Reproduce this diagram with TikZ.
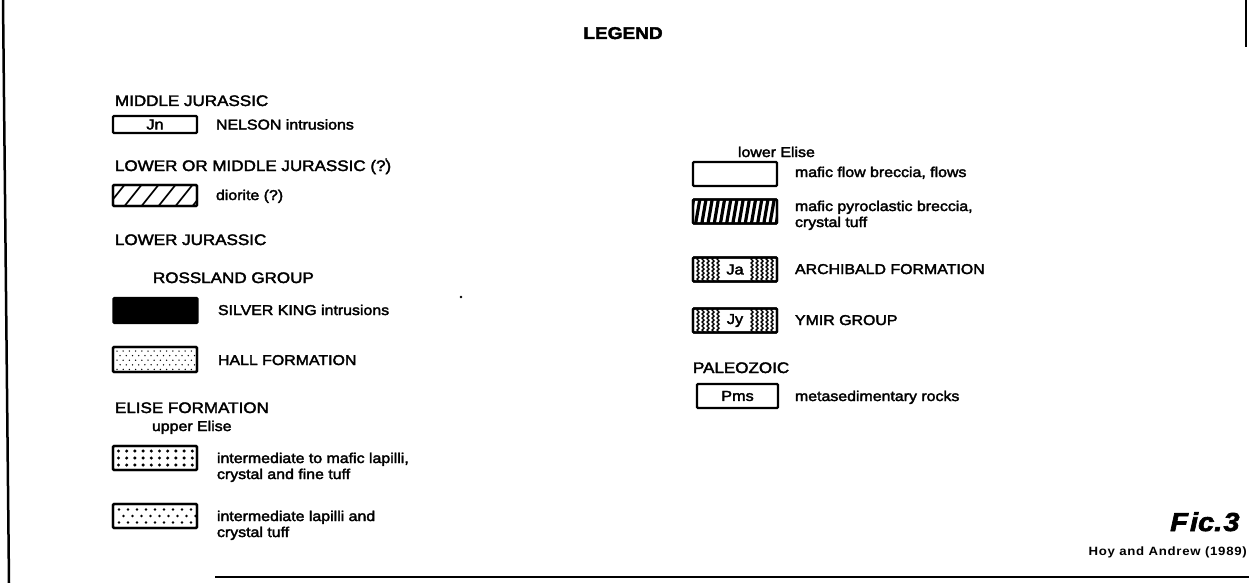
\documentclass[tikz,border=0pt]{standalone}
\usepackage{fontspec}
\setmainfont{Liberation Sans}[FakeStretch=1.12, FakeBold=2.5]
\newfontfamily\creditfont{Liberation Sans}[FakeStretch=1.1, LetterSpace=6]
\usetikzlibrary{decorations.pathmorphing}
\begin{document}
\begin{tikzpicture}[x=1pt,y=-1pt,
  txt/.style={anchor=base west, inner sep=0pt, outer sep=0pt, font=\fontsize{14.2}{16}\selectfont},
  head/.style={txt, font=\fontsize{15.2}{17}\selectfont},
  swatch/.style={draw, line width=2.3pt, rounded corners=1pt, inner sep=0pt, outer sep=0pt, minimum width=84pt, minimum height=24pt, font=\fontsize{14.5}{16}\selectfont},
  frameline/.style={draw, line width=2.3pt, rounded corners=1pt},
  lbl/.style={fill=white, inner sep=1.5pt, font=\fontsize{14.5}{16}\selectfont},
  hatch/.style={line width=1.7pt},
  vhatch/.style={line width=3.2pt},
  wavy/.style={line width=1.4pt, decorate, decoration={zigzag, segment length=4pt, amplitude=1pt}},
  border/.style={line width=2.5pt}]
\path[use as bounding box] (0,0) rectangle (1249,583);

% frame lines
\coordinate (lt) at (3,0); \coordinate (lb) at (9,583);
\coordinate (rt) at (1246,0); \coordinate (rb) at (1246,47);
\coordinate (bl) at (215,577); \coordinate (br) at (1249,577);
\draw[border] (lt) -- (lb);
\draw[border] (rt) -- (rb);
\draw[line width=2pt] (bl) -- (br);

% title
\node[anchor=base, inner sep=0pt, font=\fontsize{17}{20}\selectfont\bfseries] (title) at (623,39) {LEGEND};

% ---------- left column ----------
\node[head] (h1) at (115,106) {MIDDLE JURASSIC};
\node[swatch, minimum height=17pt] (jn) at (155,124.5) {Jn};
\node[txt] (t1) at (216,129.5) {NELSON intrusions};

\node[head] (h2) at (115,171) {LOWER OR MIDDLE JURASSIC (?)};
\fill (386,159) circle (1);
\node[swatch, minimum height=21pt] (dio) at (155,195.5) {};
\begin{scope}
  \clip (dio.south west) rectangle (dio.north east);
  \foreach \k in {0,...,5} \draw[hatch] ({106+17*\k},208) -- ({126+17*\k},183);
\end{scope}
\draw[frameline] (dio.south west) rectangle (dio.north east);
\node[txt] (t2) at (216,200) {diorite (?)};

\node[head] (h3) at (115,245) {LOWER JURASSIC};
\node[head] (h4) at (153,283) {ROSSLAND GROUP};
\fill (461,297) circle (1.3);
\node[swatch, fill=black, minimum height=25pt] (sk) at (155.5,310.5) {};
\node[txt] (t3) at (218,315) {SILVER KING intrusions};

\node[swatch, minimum height=25pt] (hall) at (155,359.5) {};
\begin{scope}
  \clip (hall.south west) rectangle (hall.north east);
  \foreach \i in {0,...,12} \foreach \j in {0,...,4}
     \fill ({117+6.2*\i+3.1*mod(\j,2)},{351+4.6*\j}) circle (0.75);
\end{scope}
\draw[frameline] (hall.south west) rectangle (hall.north east);
\node[txt] (t4) at (218,365) {HALL FORMATION};

\node[head] (h5) at (115,413) {ELISE FORMATION};
\node[txt] (h6) at (152,431) {upper Elise};
\node[swatch] (ue1) at (155,458) {};
\begin{scope}
  \clip (ue1.south west) rectangle (ue1.north east);
  \foreach \i in {0,...,9} \foreach \j in {0,1,2}
     \fill ({118.5+8.2*\i},{451+7*\j}) circle (1.7);
\end{scope}
\draw[frameline] (ue1.south west) rectangle (ue1.north east);
\node[txt] (t5a) at (217,463) {intermediate to mafic lapilli,};
\node[txt] (t5b) at (217,479) {crystal and fine tuff};

\node[swatch] (ue2) at (155,516) {};
\begin{scope}
  \clip (ue2.south west) rectangle (ue2.north east);
  \foreach \i in {0,...,8} \foreach \j in {0,1,2}
     \fill ({119+9*\i+4.5*mod(\j,2)},{509.5+6.5*\j}) circle (1.35);
\end{scope}
\draw[frameline] (ue2.south west) rectangle (ue2.north east);
\node[txt] (t6a) at (217,521) {intermediate lapilli and};
\node[txt] (t6b) at (217,537) {crystal tuff};

% ---------- right column ----------
\node[txt] (h7) at (738,157) {lower Elise};
\node[swatch] (le1) at (735,174) {};
\node[txt] (t7) at (795,177) {mafic flow breccia, flows};

\node[swatch] (le2) at (735,211.5) {};
\begin{scope}
  \clip (le2.south west) rectangle (le2.north east);
  \foreach \k in {0,...,14} \draw[vhatch] ({689+6.2*\k},226) -- ({694+6.2*\k},197);
\end{scope}
\draw[frameline] (le2.south west) rectangle (le2.north east);
\node[txt] (t8a) at (795,211) {mafic pyroclastic breccia,};
\node[txt] (t8b) at (795,227) {crystal tuff};

\node[swatch] (ja) at (735,269.5) {};
\begin{scope}
  \clip (ja.south west) rectangle (ja.north east);
  \foreach \x in {698,703,708,713,718,752,757,762,767,772}
     \draw[wavy] (\x,256) -- (\x,283);
\end{scope}
\draw[frameline] (ja.south west) rectangle (ja.north east);
\node[lbl] (jalbl) at (735,269.5) {Ja};
\node[txt] (t9) at (795,274) {ARCHIBALD FORMATION};

\node[swatch] (jy) at (735,320.5) {};
\begin{scope}
  \clip (jy.south west) rectangle (jy.north east);
  \foreach \x in {698,703,708,713,718,752,757,762,767,772}
     \draw[wavy] (\x,307) -- (\x,334);
\end{scope}
\draw[frameline] (jy.south west) rectangle (jy.north east);
\node[lbl] (jylbl) at (735,320.5) {Jy};
\node[txt] (t10) at (795,325) {YMIR GROUP};

\node[head] (h8) at (693,373) {PALEOZOIC};
\node[swatch, minimum width=81pt] (pms) at (737.5,396) {Pms};
\node[txt] (t11) at (795,401) {metasedimentary rocks};

% ---------- credit ----------
\node[anchor=base west, inner sep=0pt, font=\fontsize{26}{28}\selectfont\bfseries\itshape] (fig) at (1170,531) {F\kern2pt ic.\kern1pt 3};
\node[anchor=base east, inner sep=0pt, font=\creditfont\fontsize{12}{13}\selectfont\bfseries] (credit) at (1247,555.5) {Hoy and Andrew (1989)};
\end{tikzpicture}
\end{document}
